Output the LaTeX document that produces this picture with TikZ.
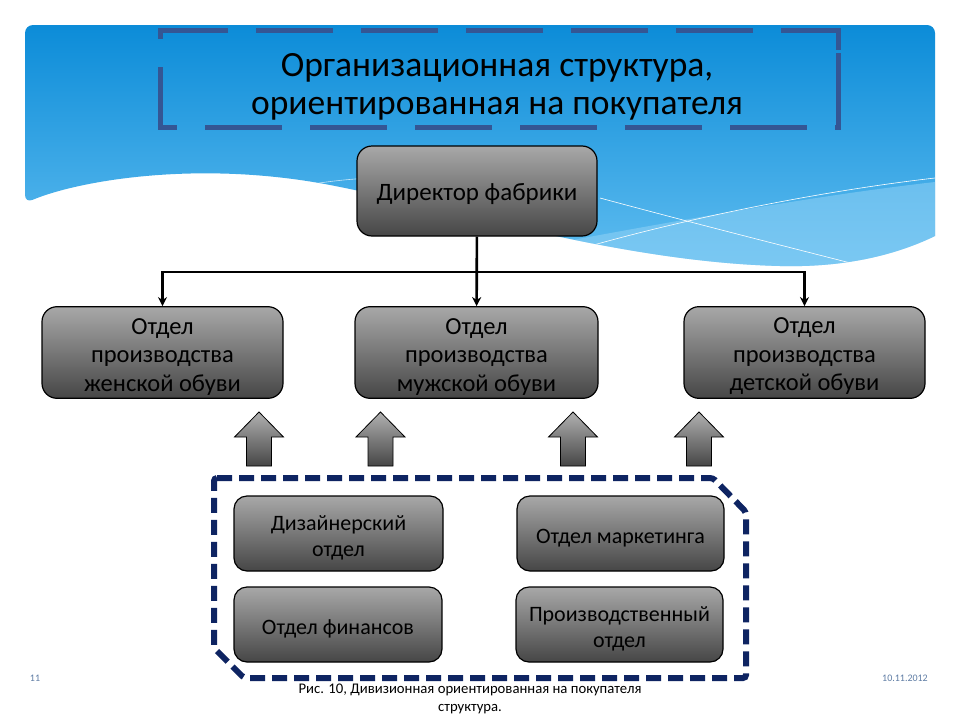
\documentclass[tikz,border=0pt]{standalone}
\usepackage{fontspec}
\setmainfont{Carlito}
\usepackage{tikz}
\usetikzlibrary{arrows.meta}
\usepackage{xcolor}
\definecolor{skytop}{RGB}{12,140,216}
\definecolor{skybot}{RGB}{96,189,240}
\definecolor{skylight}{RGB}{150,212,246}
\definecolor{titleblue}{RGB}{52,86,148}
\definecolor{groupnavy}{RGB}{14,36,98}
\definecolor{boxtop}{RGB}{168,168,168}
\definecolor{boxbot}{RGB}{70,70,70}
\definecolor{footgrey}{RGB}{95,125,165}
\newcommand{\topgap}{\rule{0pt}{24pt}}
\tikzstyle{unit} = [rectangle, rounded corners=15pt, minimum width=241pt, minimum height=91pt, text centered, align=center, draw=black, line width=1.2pt, top color=boxtop, bottom color=boxbot, font=\fontsize{24.5}{28.5}\selectfont]
\tikzstyle{subunit} = [unit, rounded corners=13pt, minimum width=208pt, minimum height=75pt, font=\fontsize{22}{26}\selectfont]
\tikzstyle{link} = [line width=2.6pt, -{Stealth[length=9pt,width=9pt]}]
\tikzstyle{push} = [draw=black, line width=0.8pt, top color=boxtop!90, bottom color=boxbot]

\begin{document}
\begin{tikzpicture}[x=1pt, y=-1pt]
\useasboundingbox (0,0) rectangle (960,720);
\fill[white] (0,0) rectangle (960,720);

% Sky background
\shade[top color=skytop, bottom color=skybot] (25,203) .. controls (80,180) and (200,160) .. (330,185) .. controls (450,208) and (620,262) .. (780,266) .. controls (860,268) and (910,248) .. (935,236) [rounded corners=8] -- (935,25) -- (25,25) -- cycle;
\begin{scope}
\clip (25,203) .. controls (80,180) and (200,160) .. (330,185) .. controls (450,208) and (620,262) .. (780,266) .. controls (860,268) and (910,248) .. (935,236) -- (935,25) -- (25,25) -- cycle;
\fill[skylight, opacity=0.5] (540,300) -- (540,246) .. controls (680,220) and (820,195) .. (935,182) -- (935,300) -- cycle;
\draw[white, line width=0.6pt] (600,198) .. controls (700,225) and (800,250) .. (870,268);
\draw[white, line width=0.6pt] (590,246) .. controls (700,215) and (830,190) .. (935,178);
\draw[white, line width=0.6pt, opacity=0.7] (300,186) .. controls (330,181) and (350,179) .. (372,178);
\end{scope}

% Title
\draw[titleblue, line width=5pt, dash pattern=on 77pt off 28pt] (838,50) -- (838,30) -- (160,30) -- (160,127) -- (838,127) -- cycle;
\node[font=\fontsize{35.5}{38}\selectfont, align=center] (title) at (497,87) {Организационная структура,\\ориентированная на покупателя};

% Top level
\node[unit, minimum width=240pt, minimum height=90pt, font=\fontsize{25}{28.5}\selectfont] (dir) at (477,191) {\topgap Директор фабрики};

% Divisions
\node[unit] (wom) at (162.5,352.5) {\topgap Отдел\\производства\\женской обуви};
\node[unit, minimum width=243pt] (men) at (476.5,352.5) {\topgap Отдел\\производства\\мужской обуви};
\node[unit] (kid) at (804.5,352.5) {\topgap Отдел\\производства\\детской обуви};

% Connections
\coordinate (bus) at (477,272);
\draw[link] (dir) -- (men);
\draw[link] (bus) -| (wom.north);
\draw[link] (bus) -| (kid.north);

% Support arrows
\foreach \x in {259,380.5,573,699}
  \draw[push] (\x-12.5,466) -- (\x-12.5,437) -- (\x-24.5,437) -- (\x,412) -- (\x+24.5,437) -- (\x+12.5,437) -- (\x+12.5,466) -- cycle;

% Shared services
\draw[groupnavy, line width=6pt, dash pattern=on 15pt off 7pt, rounded corners=3pt] (214,478) -- (713,478) -- (746,512) -- (746,678) -- (244,678) -- (214,648) -- cycle;
\node[subunit, minimum width=209pt] (des) at (338.5,533.5) {\topgap Дизайнерский\\отдел};
\node[subunit, minimum width=207pt] (mkt) at (620.5,533.5) {\topgap Отдел маркетинга};
\node[subunit] (fin) at (338,624.5) {\topgap Отдел финансов};
\node[subunit, minimum width=207pt] (prd) at (619.5,624.5) {\topgap Производственный\\отдел};

% Footer
\node[font=\fontsize{10}{12}\selectfont, text=footgrey] (pg) at (35,678) {11};
\node[font=\fontsize{10}{12}\selectfont, text=footgrey] (date) at (905,678) {10.11.2012};
\node[font=\fontsize{14.7}{18}\selectfont, align=center] (cap) at (470,699) {Рис. 10, Дивизионная ориентированная на покупателя\\структура.};
\end{tikzpicture}
\end{document}
